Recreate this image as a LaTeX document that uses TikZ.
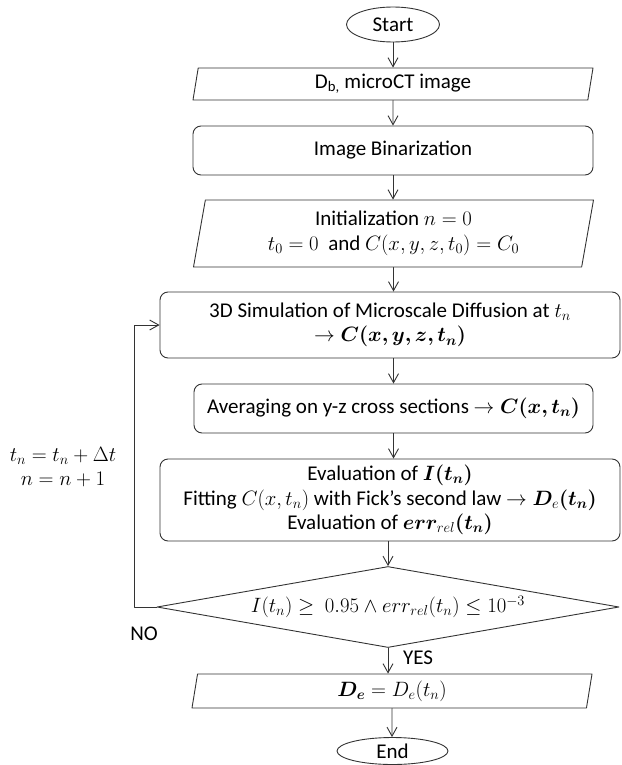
\documentclass[tikz,border=0pt]{standalone}
\usepackage[no-math]{fontspec}
\setmainfont{Carlito}
\usepackage{amsmath,bm}
\usetikzlibrary{shapes.geometric,arrows.meta}
\begin{document}
\begin{tikzpicture}[x=1pt, y=-1pt, font=\fontsize{21}{24.5}\selectfont, line join=round, line cap=round, >={Straight Barb[length=9pt,width=10pt]},
	every node/.style={align=center, inner sep=0pt},
	term/.style={ellipse, draw=black!80, line width=0.9pt},
	io/.style={trapezium, trapezium left angle=75, trapezium right angle=105, trapezium stretches body, draw=black!80, line width=0.9pt, minimum width=400pt},
	proc/.style={rectangle, rounded corners=8pt, draw=black!80, line width=0.9pt},
	cond/.style={diamond, aspect=5.7, draw=black!80, line width=0.9pt, minimum width=462pt, minimum height=81pt}]
	\useasboundingbox (0,0) rectangle (621,765);
	% blocks
	\node[term, minimum width=93pt, minimum height=35pt] (start) at (393,24.5) {Start};
	\node[io, minimum height=32pt] (db) at (393,84) {D\textsubscript{b,} microCT image};
	\node[proc, minimum width=400pt, minimum height=49pt] (bin) at (393,150.5) {Image Binarization};
	\node[io, minimum height=67pt] (init) at (393.5,233.5) {Initialization $n=0$\\ $t_0=0$\ \ and $C(x,y,z,t_0)=C_0$};
	\node[proc, minimum width=460pt, minimum height=66pt] (sim) at (390,325) {3D Simulation of Microscale Diffusion at $t_n$\\ $\rightarrow\bm{C(x,y,z,t_n)}$};
	\node[proc, minimum width=399pt, minimum height=49pt] (avg) at (393.5,408.5) {Averaging on y-z cross sections $\rightarrow\bm{C(x,t_n)}$};
	\node[proc, minimum width=460pt, minimum height=82pt] (eval) at (390,500) {Evaluation of $\bm{I(t_n)}$\\ Fitting $C(x,t_n)$ with Fick’s second law $\rightarrow\bm{D}_e\bm{(t_n)}$\\ Evaluation of $\bm{err}_{rel}\bm{(t_n)}$};
	\node[cond] (dec) at (388,607) {$I(t_n)\geq\ 0.95\wedge err_{rel}(t_n)\leq10^{-3}$};
	\node[io, minimum height=34pt] (de) at (392,691) {$\bm{D_e}=D_e(t_n)$};
	\node[term, minimum width=111pt, minimum height=27pt] (end) at (392.5,751) {End};
	% labels
	\node (upd) at (63,467) {$t_n=t_n+\Delta t$\\ $n=n+1$};
	\node (no) at (144,634) {NO};
	\node (yes) at (418,658) {YES};
	\coordinate (back) at (134,607);
	% arrows
	\draw[->, black!80, line width=0.9pt] (start) -- (start |- db.north);
	\draw[->, black!80, line width=0.9pt] (db) -- (db |- bin.north);
	\draw[->, black!80, line width=0.9pt] (bin) -- (bin |- init.north);
	\draw[->, black!80, line width=0.9pt] (init) -- (init |- sim.north);
	\draw[->, black!80, line width=0.9pt] (avg |- sim.south) -- (avg.north);
	\draw[->, black!80, line width=0.9pt] (avg) -- (avg |- eval.north);
	\draw[->, black!80, line width=0.9pt] (dec |- eval.south) -- (dec.north);
	\draw[->, black!80, line width=0.9pt] (dec) -- (dec |- de.north);
	\draw[->, black!80, line width=0.9pt] (de) -- (de |- end.north);
	\draw[->, black!80, line width=0.9pt] (dec.west) -- (back) |- (sim.west);
\end{tikzpicture}
\end{document}
